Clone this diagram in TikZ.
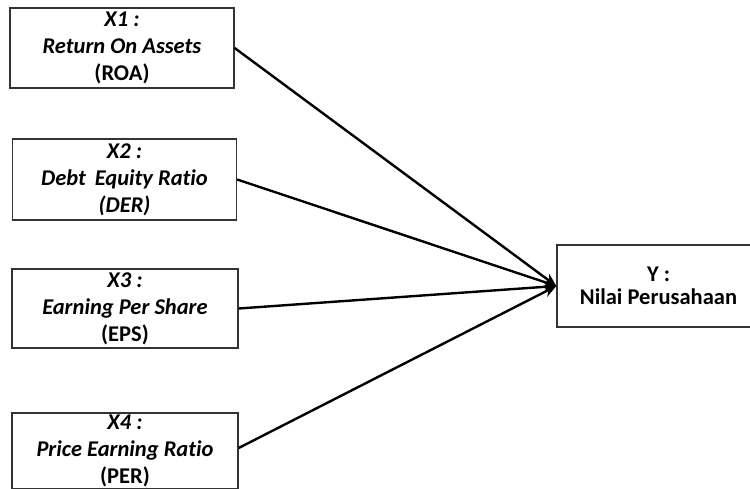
\documentclass[tikz,border=0pt]{standalone}
\usepackage{fontspec}
\setmainfont[RawFeature=-liga]{Carlito}
\usetikzlibrary{arrows.meta}
\begin{document}
\begin{tikzpicture}[x=1pt,y=-1pt,
  varbox/.style={draw=black!80,line width=1.3pt,align=center,inner sep=0pt,
    font=\fontsize{22.5}{27}\selectfont\bfseries},
  link/.style={line width=2.4pt,-{Stealth[length=13pt,width=11pt]}}]
\useasboundingbox (0,0) rectangle (750,488);
\clip (0,0) rectangle (750,488);
\node[varbox,minimum width=224pt,minimum height=80pt] (b1) at (122,48)
  {\itshape X1 :\\ \itshape Return On Assets\\ (ROA)};
\node[varbox,minimum width=224pt,minimum height=81pt] (b2) at (124.5,179.5)
  {\itshape X2 :\\ \itshape Debt\, Equity Ratio\\ \itshape (DER)};
\node[varbox,minimum width=226pt,minimum height=79pt] (b3) at (125,308.5)
  {\itshape X3 :\\ \itshape Earning Per Share\\ (EPS)};
\node[varbox,minimum width=226pt,minimum height=76pt] (b4) at (125,451)
  {\itshape X4 :\\ \itshape Price Earning Ratio\\ (PER)};
\node[varbox,minimum width=203pt,minimum height=82pt,
  font=\fontsize{22.5}{23}\selectfont\bfseries] (y) at (658.5,286)
  {Y :\\ Nilai Perusahaan};
\draw[link] (b1.east) -- (y.west);
\draw[link] (b2.east) -- (y.west);
\draw[link] (b3.east) -- (y.west);
\draw[link] ([yshift=3pt]b4.east) -- (y.west);
\end{tikzpicture}
\end{document}
